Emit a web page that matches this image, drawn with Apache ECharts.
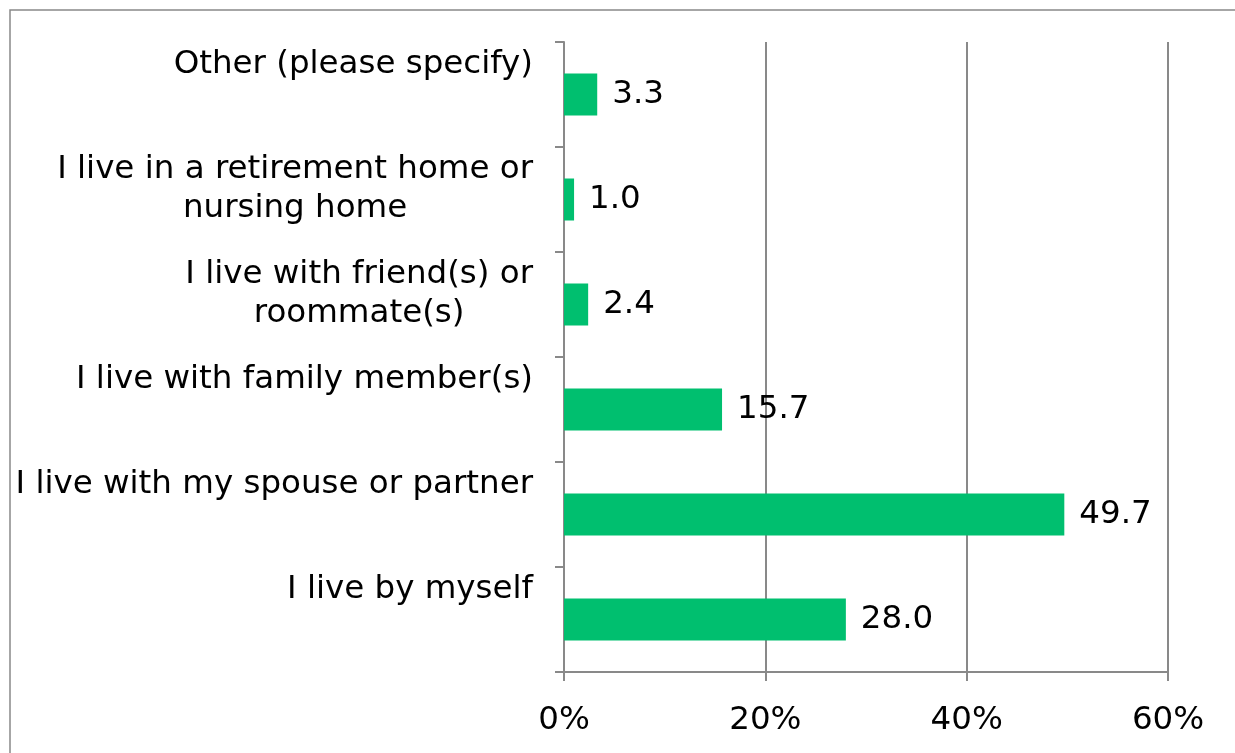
<!DOCTYPE html>
<html>
<head>
<meta charset="utf-8">
<script src="https://cdn.jsdelivr.net/npm/echarts@6/dist/echarts.min.js"></script>
<style>
  html, body { margin: 0; padding: 0; background: #fff; }
  #living { width: 1235px; height: 753px; }
</style>
</head>
<body>
<div id="living"></div>
<script>
// categories listed from top to bottom as they appear in the chart
var categories = [
    'Other (please specify)',
    'I live in a retirement home or\nnursing home',
    'I live with friend(s) or\nroommate(s)',
    'I live with family member(s)',
    'I live with my spouse or partner',
    'I live by myself'
];
var percents = [3.3, 1.0, 2.4, 15.7, 49.7, 28.0];

(function() {
    var living = echarts.init(document.getElementById('living'));
    var grey = '#898989';
    var font = 'DejaVu Sans';

    option = {
        backgroundColor: '#fff',
        animation: false,
        grid: {
            left: 564,
            right: 67,
            top: 42,
            bottom: 81,
            outerBoundsMode: 'none'
        },
        graphic: [{
            type: 'rect',
            shape: { x: 10, y: 10, width: 1240, height: 760 },
            style: { fill: 'none', stroke: grey, lineWidth: 1.5 },
            silent: true
        }],
        xAxis: {
            type: 'value',
            min: 0,
            max: 60,
            interval: 20,
            axisLine: { show: true, lineStyle: { color: grey, width: 2 } },
            axisTick: { show: true, length: 9, lineStyle: { color: grey, width: 2 } },
            splitLine: { show: true, lineStyle: { color: grey, width: 2 } },
            axisLabel: {
                formatter: '{value}%',
                margin: 32,
                color: '#000',
                fontFamily: font,
                fontSize: 32.5
            }
        },
        yAxis: {
            type: 'category',
            inverse: true,
            data: categories,
            axisLine: { show: true, lineStyle: { color: grey, width: 2 } },
            axisTick: { show: true, length: 9, lineStyle: { color: grey, width: 2 } },
            axisLabel: {
                margin: 31,
                align: 'right',
                verticalAlign: 'top',
                padding: [-49, 0, 0, 0],
                formatter: function(v) {
                    return v.split('\n').map(function(s) { return '{c|' + s + '}'; }).join('\n');
                },
                rich: {
                    c: {
                        align: 'center',
                        color: '#000',
                        fontFamily: font,
                        fontSize: 32.5,
                        lineHeight: 39
                    }
                }
            }
        },
        series: [{
            name: 'percent',
            type: 'bar',
            barWidth: 42,
            itemStyle: { color: '#00bf6f' },
            label: {
                show: true,
                position: 'right',
                distance: 15,
                color: '#000',
                fontFamily: font,
                fontSize: 32.5,
                formatter: function(p) { return p.value.toFixed(1); }
            },
            data: percents
        }]
    };
    living.setOption(option);
})();
</script>
</body>
</html>
